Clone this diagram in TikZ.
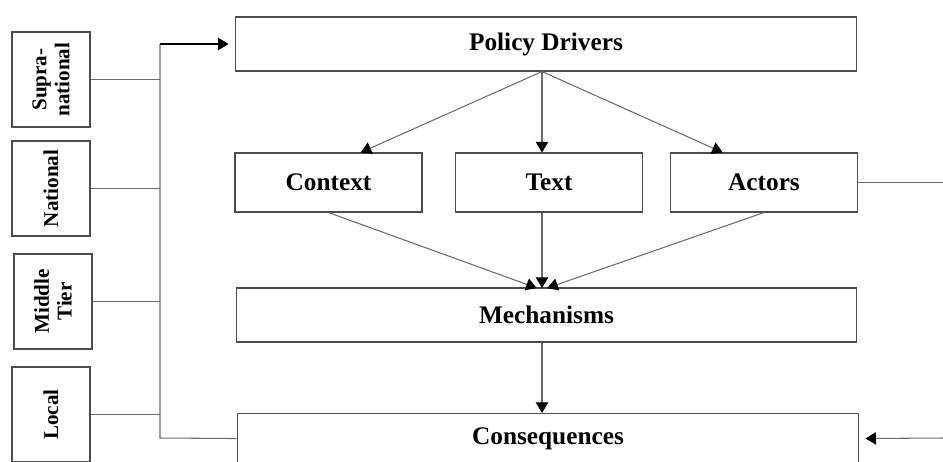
\documentclass[tikz,border=0pt]{standalone}
\usepackage{fontspec}
\setmainfont{Liberation Serif}
\definecolor{boxgray}{gray}{.30}
\definecolor{linegray}{gray}{.42}
\usetikzlibrary{arrows.meta,positioning}

\begin{document}
\begin{tikzpicture}[
                x=0.02cm, y=-0.02cm,
                caja/.style={rectangle, draw=boxgray, line width=0.6pt, inner sep=0pt,
                    font=\fontsize{14.4}{17}\selectfont\bfseries},
                nivel/.style={caja, rotate=90, minimum width=1.9cm, minimum height=1.56cm,
                    align=center, font=\fontsize{12}{13}\selectfont\bfseries},
                enlace/.style={line width=0.6pt, linegray},
                flecha/.style={-{Triangle[length=6pt,width=7pt,black]}, line width=0.6pt, linegray}
            ]
            \useasboundingbox (0,0) rectangle (943,461);

            % main column
            \node[caja, minimum width=12.44cm, minimum height=1.08cm] (drivers) at (546,44) {Policy Drivers};
            \node[caja, minimum width=3.74cm, minimum height=1.18cm] (context) at (328.5,182.5) {Context};
            \node[caja, minimum width=3.74cm, minimum height=1.18cm] (text) at (549,182.5) {Text};
            \node[caja, minimum width=3.74cm, minimum height=1.18cm] (actors) at (764,182.5) {Actors};
            \node[caja, minimum width=12.42cm, minimum height=1.08cm] (mech) at (546.5,315) {Mechanisms};
            \node[caja, minimum width=12.44cm, minimum height=1.0cm, anchor=north] (cons) at (548,413) {Consequences};

            % levels on the left
            \node[nivel] (sup) at (51,79.5) {Supra-\\national};
            \node[nivel] (nat) at (51,188.5) {National};
            \node[nivel] (mid) at (53,301.5) {Middle\\Tier};
            \node[nivel] (loc) at (51,414.5) {Local};

            \coordinate (bustop) at (160,44);
            \coordinate (busbot) at (160,438);
            \coordinate (mtop) at (542,288);
            \coordinate (actout) at (943,182.5);
            \coordinate (consin) at (943,438);

            % drivers -> context, text, actors
            \draw[flecha] (drivers.south -| mtop) -- (context.43);
            \draw[flecha] (drivers.south -| mtop) -- (text.north -| mtop);
            \draw[flecha] (drivers.south -| mtop) -- (actors.144);

            % into mechanisms
            \draw[flecha] (context.south) -- ([xshift=-3pt]mtop);
            \draw[flecha] (text.south -| mtop) -- (mtop);
            \draw[flecha] (actors.south) -- ([xshift=3pt]mtop);
            \draw[flecha] (mech.south -| mtop) -- (cons.north -| mtop);

            % bus from the levels (rotated boxes: south faces right)
            \foreach \n in {sup,nat,mid,loc}
                \draw[enlace] (\n.south) -- (\n.south -| bustop);
            \draw[enlace] (cons.west) -- (busbot) -- (bustop);
            \draw[flecha, black, shorten >=3.4pt] (bustop) -- (drivers.west);

            % right side
            \draw[enlace] (actors.east) -- (actout);
            \draw[flecha, shorten >=3.4pt] (consin) -- (cons.east);
        \end{tikzpicture}
\end{document}
